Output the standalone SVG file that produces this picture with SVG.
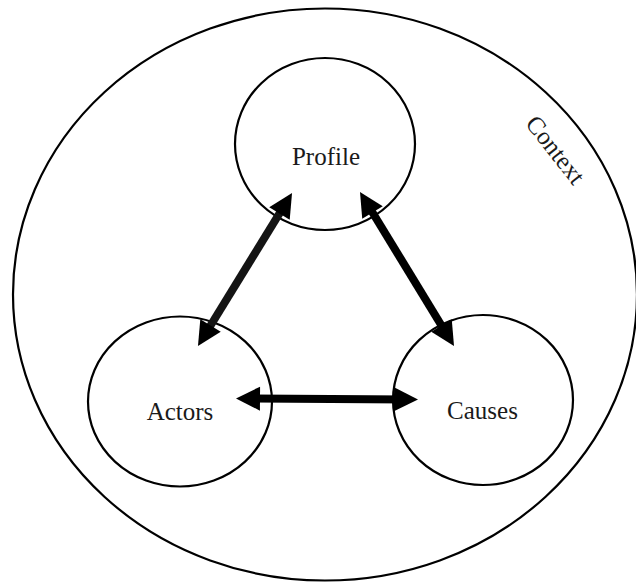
<svg xmlns="http://www.w3.org/2000/svg" width="636" height="583" viewBox="0 0 636 583">
<style>
.ring{fill:none;stroke:#000;stroke-width:2.2}
.lbl{font-family:"Liberation Serif","Times New Roman",serif;font-size:25px;fill:#1a1a1a;text-anchor:middle}
.arr{stroke:#000;stroke-width:8;fill:none;marker-start:url(#head);marker-end:url(#head)}
</style>
<defs>
<marker id="head" markerUnits="userSpaceOnUse" viewBox="-16 -13 28 26" markerWidth="28" markerHeight="26" refX="0" refY="0" orient="auto-start-reverse">
<path d="M-14,-12 L10,0 L-14,12 z" fill="#000"/>
</marker>
</defs>
<rect width="636" height="583" fill="#fff"/>
<g id="context">
<ellipse class="ring" cx="325" cy="294.5" rx="312" ry="286"/>
<text class="lbl" x="549" y="155" transform="rotate(52 549 155)">Context</text>
</g>
<g id="profile">
<ellipse class="ring" cx="325" cy="144" rx="90" ry="86"/>
<text class="lbl" x="326" y="165">Profile</text>
</g>
<g id="actors">
<ellipse class="ring" cx="180" cy="401.5" rx="92" ry="85"/>
<text class="lbl" x="180" y="420">Actors</text>
</g>
<g id="causes">
<ellipse class="ring" cx="483" cy="400" rx="90" ry="85"/>
<text class="lbl" x="482.5" y="419">Causes</text>
</g>
<g id="connectors">
<line class="arr" style="stroke:#141414" x1="286.8" y1="201.5" x2="203.2" y2="337.5"/>
<line class="arr" x1="365.2" y1="200.5" x2="448.8" y2="337.5"/>
<line class="arr" x1="246" y1="398.55" x2="408" y2="399.45"/>
</g>
</svg>
